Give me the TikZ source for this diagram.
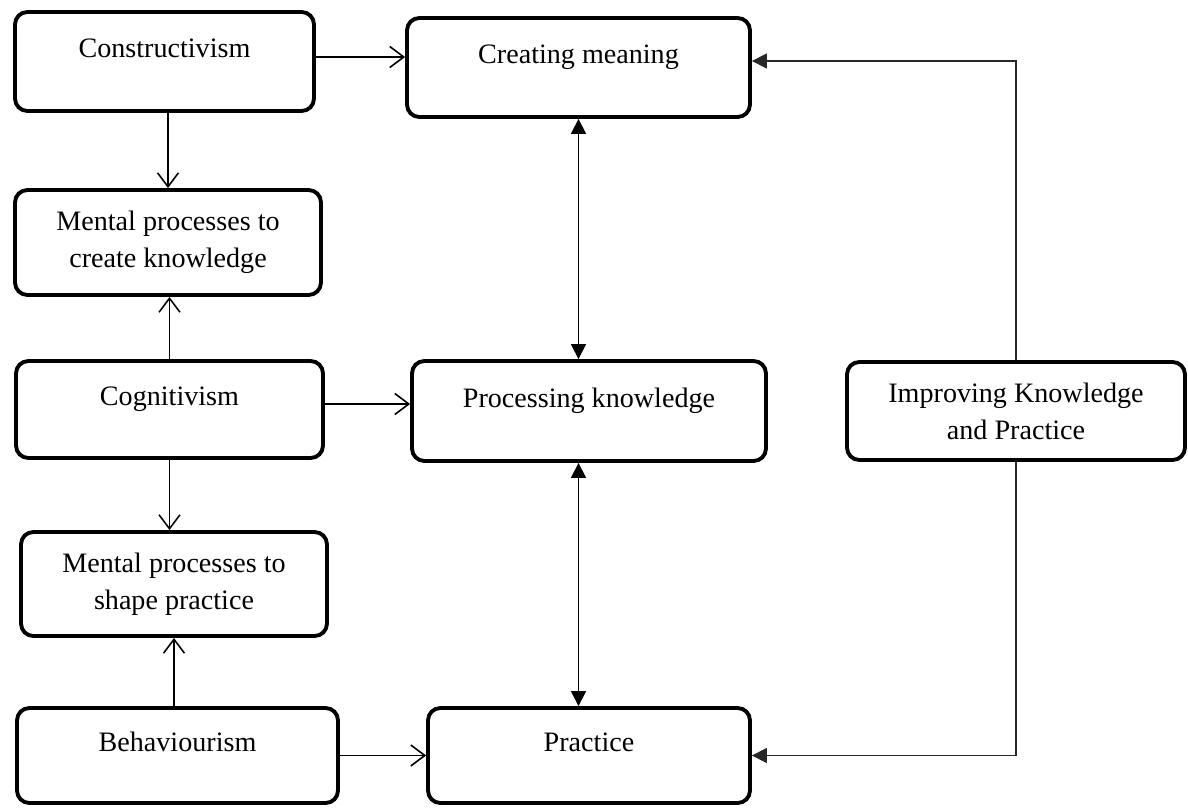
\documentclass[tikz,border=0pt]{standalone}
\usepackage{fontspec}
\setmainfont{Liberation Serif}
\usepackage{tikz}
\usetikzlibrary{arrows.meta,positioning,calc}
\definecolor{lnline}{RGB}{0,0,0}
\definecolor{lnfeed}{RGB}{40,40,40}
\tikzset{
  lnBox/.style={draw=lnline, line width=2.2pt, rounded corners=7pt, fill=white,
                align=center, inner sep=2pt,
                font=\fontsize{16}{21}\selectfont,
                text height=11pt, text depth=15.5pt},
  lnTwo/.style={draw=lnline, line width=2.2pt, rounded corners=7pt, fill=white,
                align=center, inner sep=2pt,
                font=\fontsize{16}{21}\selectfont},
  lnArrow/.style={-{Straight Barb[length=2.8mm,width=4.2mm]}, line width=0.9pt, draw=lnline},
  lnBoth/.style={{Triangle[length=3mm,width=3mm]}-{Triangle[length=3mm,width=3mm]},
                 line width=0.9pt, draw=lnline},
  lnFeed/.style={-{Triangle[length=3mm,width=3mm]}, line width=0.8pt, draw=lnfeed}
}
\begin{document}
\begin{tikzpicture}[x=0.02cm,y=-0.02cm]
  \useasboundingbox (0,0) rectangle (1188,808);
  % left column
  \node[lnBox, minimum width=5.98cm, minimum height=1.98cm] (cons) at (164.5,61.5) {Constructivism};
  \node[lnTwo, minimum width=6.12cm, minimum height=2.10cm] (mcreate) at (168,242.5) {Mental processes to\\create knowledge};
  \node[lnBox, minimum width=6.14cm, minimum height=1.94cm] (cogn) at (169.5,409.5) {Cognitivism};
  \node[lnTwo, minimum width=6.12cm, minimum height=2.08cm] (mshape) at (174,584) {Mental processes to\\shape practice};
  \node[lnBox, minimum width=6.42cm, minimum height=1.90cm] (behav) at (177.5,755.5) {Behaviourism};
  % middle column
  \node[lnBox, minimum width=6.86cm, minimum height=1.98cm] (mean) at (578.5,67.5) {Creating meaning};
  \node[lnBox, minimum width=7.08cm, minimum height=2.00cm] (proc) at (589,411) {Processing knowledge};
  \node[lnBox, minimum width=6.44cm, minimum height=1.90cm] (prac) at (589,755.5) {Practice};
  % right
  \node[lnTwo, minimum width=6.76cm, minimum height=1.96cm] (impr) at (1016,411) {Improving Knowledge\\and Practice};

  \draw[lnArrow] ([yshift=0.09cm]cons.east) -- ([yshift=0.09cm]cons.east -| mean.west);
  \draw[lnArrow] ([yshift=0.11cm]cogn.east) -- ([yshift=0.11cm]cogn.east -| proc.west);
  \draw[lnArrow] (behav.east) -- (behav.east -| prac.west);
  \draw[lnArrow] (mcreate.north |- cons.south) -- (mcreate.north);
  \draw[lnArrow] (cogn.north) -- (cogn.north |- mcreate.south);
  \draw[lnArrow] (cogn.south) -- (cogn.south |- mshape.north);
  \draw[lnArrow] (mshape.south |- behav.north) -- (mshape.south);
  \draw[lnBoth] (mean.south) -- (mean.south |- proc.north);
  \draw[lnBoth] (mean.south |- proc.south) -- (mean.south |- prac.north);
  \draw[lnFeed] (impr.north) |- ([yshift=0.13cm]mean.east);
  \draw[lnFeed] (impr.south) |- (prac.east);
\end{tikzpicture}
\end{document}
